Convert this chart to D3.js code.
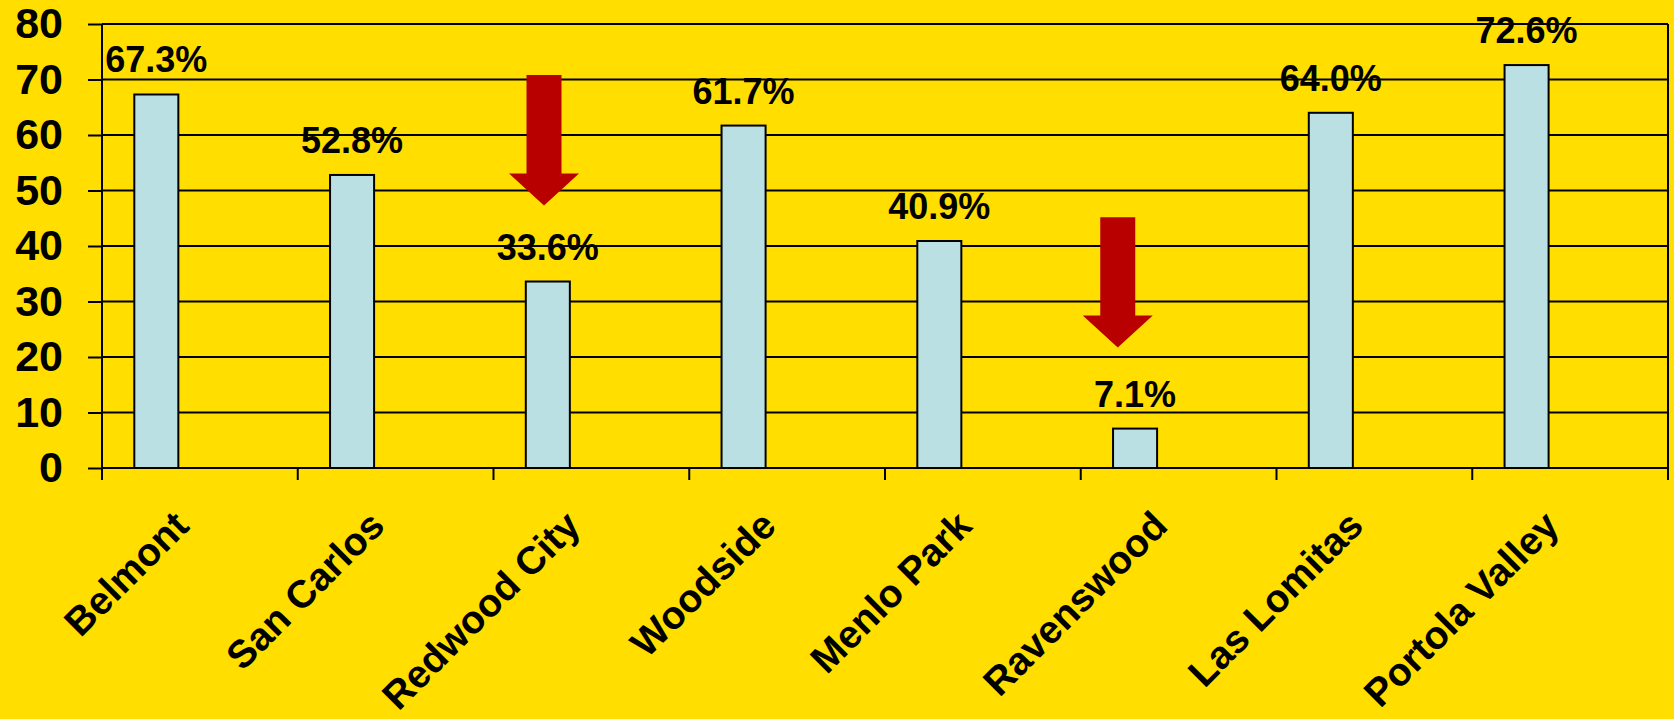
<!DOCTYPE html>
<html>
<head>
<meta charset="utf-8">
<script src="https://cdnjs.cloudflare.com/ajax/libs/d3/7.8.5/d3.min.js"></script>
<style>
  html, body { margin: 0; padding: 0; background: #FFDE00; }
  svg { display: block; }
  text { font-family: "Liberation Sans", Arial, sans-serif; font-weight: bold; fill: #000; }
</style>
</head>
<body>
<svg id="chart" width="1674" height="719"></svg>
<script>
// District values (percent)
const categories = ["Belmont", "San Carlos", "Redwood City", "Woodside", "Menlo Park", "Ravenswood", "Las Lomitas", "Portola Valley"];
const values = [67.3, 52.8, 33.6, 61.7, 40.9, 7.1, 64.0, 72.6];
const yTicks = [0, 10, 20, 30, 40, 50, 60, 70, 80];

// Downward arrow call-outs: category, start and end on the value axis
const arrowCategories = ["Redwood City", "Ravenswood"];
const arrowFrom = [70.8, 45.2];
const arrowTo = [47.3, 21.7];

const W = 1674, H = 719;
const plotLeft = 102, plotRight = 1668, plotTop = 24, plotBottom = 468;

const svg = d3.select("#chart");
svg.append("rect").attr("width", W).attr("height", H).attr("fill", "#FFDE00");

const x = d3.scaleBand().domain(categories).range([plotLeft, plotRight]).padding(0);
const y = d3.scaleLinear().domain([0, 80]).range([plotBottom, plotTop]);
const step = x.step();

// horizontal gridlines
svg.append("g").selectAll("line").data(yTicks).join("line")
  .attr("x1", plotLeft).attr("x2", plotRight)
  .attr("y1", d => y(d)).attr("y2", d => y(d))
  .attr("stroke", "#000").attr("stroke-width", 2);

// right frame edge
svg.append("line").attr("x1", plotRight).attr("x2", plotRight)
  .attr("y1", y(80)).attr("y2", y(0))
  .attr("stroke", "#000").attr("stroke-width", 2);

// value axis
const yAxis = svg.append("g").attr("transform", `translate(${plotLeft},0)`)
  .call(d3.axisLeft(y).tickValues(yTicks).tickSize(14).tickPadding(25));
yAxis.select(".domain").attr("stroke", "#000").attr("stroke-width", 2).attr("d", `M0,${y(80)}V${y(0) + 12}`);
yAxis.selectAll(".tick line").attr("stroke", "#000").attr("stroke-width", 2);
yAxis.selectAll(".tick text").attr("font-size", 43).attr("font-family", "Liberation Sans, Arial, sans-serif")
  .attr("font-weight", "bold").attr("fill", "#000");

// category boundary ticks
const bounds = d3.range(categories.length + 1).map(i => plotLeft + i * step);
svg.append("g").selectAll("line").data(bounds).join("line")
  .attr("x1", d => d).attr("x2", d => d)
  .attr("y1", y(0)).attr("y2", y(0) + 12)
  .attr("stroke", "#000").attr("stroke-width", 2);

// bars
const barOffset = step * 0.165, barWidth = step * 0.225;
svg.append("g").selectAll("rect").data(values).join("rect")
  .attr("x", (d, i) => x(categories[i]) + barOffset)
  .attr("width", barWidth)
  .attr("y", d => y(d))
  .attr("height", d => y(0) - y(d))
  .attr("fill", "#BBE0E3")
  .attr("stroke", "#000").attr("stroke-width", 2);

// value labels
svg.append("g").selectAll("text").data(values).join("text")
  .attr("x", (d, i) => x(categories[i]) + barOffset + barWidth / 2)
  .attr("y", d => y(d) - 22)
  .attr("text-anchor", "middle")
  .attr("font-size", 36)
  .text(d => d.toFixed(1) + "%");

// category labels, rotated
svg.append("g").selectAll("text").data(categories).join("text")
  .attr("text-anchor", "end")
  .attr("font-size", 39)
  .attr("transform", d => `translate(${x(d) + step / 2 - 9},${plotBottom + 60}) rotate(-45)`)
  .text(d => d);

// arrows
const arrowCenterFrac = [0.258, 0.189];
const shaftW = 35, headW = 70, headL = 32;
arrowCategories.forEach((c, i) => {
  const cx = x(c) + step * arrowCenterFrac[i];
  const y0 = y(arrowFrom[i]), y1 = y(arrowTo[i]);
  const yh = y1 - headL;
  const pts = [
    [cx - shaftW / 2, y0], [cx + shaftW / 2, y0], [cx + shaftW / 2, yh],
    [cx + headW / 2, yh], [cx, y1], [cx - headW / 2, yh], [cx - shaftW / 2, yh]
  ];
  svg.append("path").attr("d", d3.line()(pts) + "Z").attr("fill", "#B80000");
});
</script>
</body>
</html>
